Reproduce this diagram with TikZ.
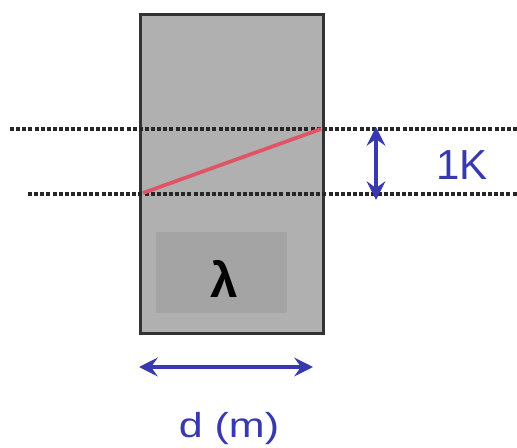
\documentclass[tikz,border=0pt]{standalone}
\usepackage{fontspec}
\setmainfont{Liberation Sans}
\usetikzlibrary{arrows.meta}
\definecolor{slabgrey}{HTML}{B0B0B0}
\definecolor{innergrey}{HTML}{A4A4A4}
\definecolor{edgegrey}{HTML}{333333}
\definecolor{rayred}{HTML}{E05566}
\definecolor{arrowblue}{HTML}{3838B0}
\tikzset{
  dotline/.style={line width=2.6pt, dash pattern=on 3pt off 1.6pt, black!85},
  dimarrow/.style={arrowblue, line width=2.8pt, {Stealth[length=14pt,width=14pt,inset=5pt]}-{Stealth[length=14pt,width=14pt,inset=5pt]}},
  lbl/.style={text=arrowblue, inner sep=0pt},
}
\begin{document}
\begin{tikzpicture}[x=0.75pt,y=-0.75pt]
\useasboundingbox (0,0) rectangle (517,448);
% slab
\node[draw=edgegrey, line width=2.2pt, fill=slabgrey, minimum width=183*0.75pt, minimum height=319*0.75pt, inner sep=0pt, anchor=north west] (slab) at (139,13) {};
\node[fill=innergrey, minimum width=131*0.75pt, minimum height=81*0.75pt, inner sep=0pt, anchor=north west] (inner) at (156,232) {};
\node[inner sep=0pt, font=\fontsize{37}{37}\bfseries\selectfont] (lam) at (224,279) {λ};
% levels
\coordinate (t0) at (10,129); \coordinate (t1) at (517,129);
\coordinate (b0) at (28,194); \coordinate (b1) at (517,194);
\draw[dotline] (t0) -- (t1);
\draw[dotline] (b0) -- (b1);
% ray
\coordinate (r0) at (143,193); \coordinate (r1) at (321,129);
\draw[rayred, line width=2.8pt] (r0) -- (r1);
% vertical dimension
\coordinate (v0) at (376,127); \coordinate (v1) at (376,200);
\draw[dimarrow] (v0) -- (v1);
\node[lbl, font=\fontsize{31.5}{31.5}\selectfont] (k) at (462,165) {1K};
% horizontal dimension
\coordinate (h0) at (139,367); \coordinate (h1) at (313,367);
\draw[dimarrow] (h0) -- (h1);
\node[lbl, font=\fontsize{26}{26}\selectfont, anchor=base] (d) at (229,437) {\scalebox{1.24}[1]{d (m)}};
\end{tikzpicture}
\end{document}
